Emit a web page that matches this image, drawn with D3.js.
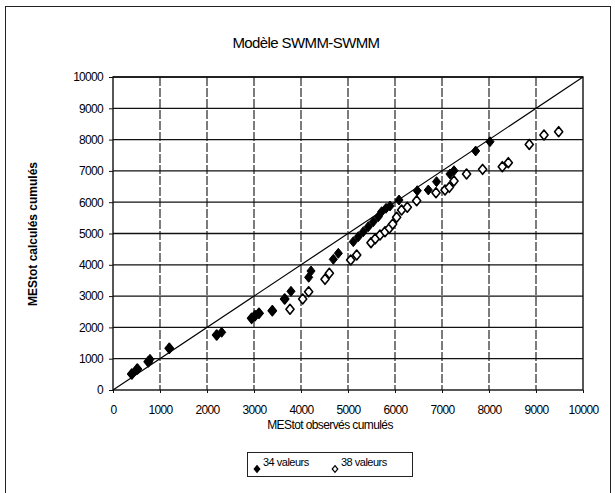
<!DOCTYPE html>
<html>
<head>
<meta charset="utf-8">
<script src="https://cdn.jsdelivr.net/npm/d3@7"></script>
<style>
  body { margin: 0; background: #fff; }
  svg { display: block; font-family: "Liberation Sans", Arial, sans-serif; }
</style>
</head>
<body>
<svg id="chart" width="615" height="493"></svg>
<script>
// values
const titre = "Modèle SWMM-SWMM"
const ticks = [0, 1000, 2000, 3000, 4000, 5000, 6000, 7000, 8000, 9000, 10000]

// 34 valeurs (losanges pleins)
const obs34 = [400, 517, 751, 787, 1198, 2206, 2312, 2950, 3021, 3106, 3390, 3653, 3787, 4163, 4213, 4688, 4794,
  5113, 5219, 5326, 5432, 5538, 5645, 5716, 5809, 5894, 6085, 6474, 6709, 6884, 7170, 7255, 7716, 8021]
const calc34 = [511, 671, 904, 980, 1332, 1757, 1843, 2290, 2374, 2450, 2534, 2907, 3153, 3600, 3802, 4175, 4367,
  4738, 4898, 5058, 5218, 5377, 5537, 5697, 5804, 5879, 6070, 6368, 6390, 6656, 6901, 7007, 7636, 7933]

// 38 valeurs (losanges vides), les premiers sont cachés sous les pleins
const obs38 = [400, 517, 751, 1198, 2206, 2950, 3021, 3106, 3390, 3653,
  3766, 4036, 4163, 4511, 4603, 5057, 5185, 5489, 5580, 5681, 5787, 5879, 5950, 6035, 6140, 6262, 6461,
  6872, 7064, 7156, 7255, 7523, 7864, 8283, 8411, 8857, 9170, 9482]
const calc38 = [511, 671, 904, 1332, 1757, 2290, 2374, 2450, 2534, 2907,
  2578, 2907, 3141, 3536, 3728, 4153, 4313, 4707, 4830, 4952, 5058, 5164, 5300, 5518, 5751, 5837, 6048,
  6304, 6390, 6475, 6677, 6901, 7049, 7135, 7263, 7846, 8147, 8253]

const legende = ["34 valeurs", "38 valeurs"]

const svg = d3.select("#chart")
const pLeft = 113, pRight = 583, pTop = 77, pBottom = 390

const x = d3.scaleLinear().domain([0, 10000]).range([pLeft, pRight])
const y = d3.scaleLinear().domain([0, 10000]).range([pBottom, pTop])

// losange un peu plus haut que large
const losange = {
  draw(ctx, size) {
    const h = Math.sqrt(size) * 0.62, w = h * 0.82
    ctx.moveTo(0, -h); ctx.lineTo(w, 0); ctx.lineTo(0, h); ctx.lineTo(-w, 0); ctx.closePath()
  }
}
const symb = d3.symbol().type(losange).size(64)

// cadre du graphique
svg.append("rect")
  .attr("x", 5.5).attr("y", 6.5).attr("width", 605).attr("height", 500)
  .attr("fill", "none").attr("stroke", "#222").attr("stroke-width", 1)

svg.append("text")
  .attr("x", 306).attr("y", 48)
  .attr("text-anchor", "middle")
  .style("font-size", "15px")
  .style("letter-spacing", "-0.6px")
  .text(titre)

// grille horizontale
svg.append("g").selectAll("line")
  .data(ticks.slice(1))
  .enter().append("line")
  .attr("x1", pLeft).attr("x2", pRight)
  .attr("y1", d => y(d)).attr("y2", d => y(d))
  .attr("stroke", "#111").attr("stroke-width", 1.3)

// grille verticale (tiretée sur le scan)
svg.append("g").selectAll("line")
  .data(ticks.slice(1, -1))
  .enter().append("line")
  .attr("x1", d => x(d)).attr("x2", d => x(d))
  .attr("y1", pTop).attr("y2", pBottom)
  .attr("stroke", "#111").attr("stroke-width", 1.1)
  .attr("stroke-dasharray", "9,2")

svg.append("rect")
  .attr("x", pLeft).attr("y", pTop).attr("width", pRight - pLeft).attr("height", pBottom - pTop)
  .attr("fill", "none").attr("stroke", "#111").attr("stroke-width", 1.4)

// axes
const xAxis = d3.axisBottom(x).tickValues(ticks).tickFormat(d3.format("d")).tickSize(3).tickPadding(12)
const yAxis = d3.axisLeft(y).tickValues(ticks).tickFormat(d3.format("d")).tickSize(4).tickPadding(6)

const gx = svg.append("g").attr("transform", `translate(0,${pBottom})`).call(xAxis)
const gy = svg.append("g").attr("transform", `translate(${pLeft},0)`).call(yAxis)
for (const g of [gx, gy]) {
  g.select(".domain").remove()
  g.selectAll("line").attr("stroke", "#111")
  g.selectAll("text")
    .attr("fill", "#000")
    .style("font-size", "12px")
    .style("letter-spacing", "-0.7px")
    .style("font-family", "'Liberation Sans', Arial, sans-serif")
}
gy.selectAll("text").attr("x", -10)

// droite y = x
svg.append("line")
  .attr("x1", x(0)).attr("y1", y(0)).attr("x2", x(10000)).attr("y2", y(10000))
  .attr("stroke", "#000").attr("stroke-width", 1.2)

// séries
svg.append("g").selectAll("path")
  .data(obs38.map((d, i) => [d, calc38[i]]))
  .enter().append("path")
  .attr("transform", d => `translate(${x(d[0])},${y(d[1])})`)
  .attr("d", symb)
  .attr("fill", "#fff").attr("stroke", "#000").attr("stroke-width", 1.6)
  .attr("stroke-linejoin", "round")

svg.append("g").selectAll("path")
  .data(obs34.map((d, i) => [d, calc34[i]]))
  .enter().append("path")
  .attr("transform", d => `translate(${x(d[0])},${y(d[1])})`)
  .attr("d", symb)
  .attr("fill", "#000").attr("stroke", "#000").attr("stroke-width", 1)

// titres des axes
svg.append("text")
  .attr("x", 330).attr("y", 429)
  .attr("text-anchor", "middle")
  .style("font-size", "12px")
  .style("letter-spacing", "-0.6px")
  .text("MEStot observés cumulés")

svg.append("text")
  .attr("transform", "translate(37,234) rotate(-90)")
  .attr("text-anchor", "middle")
  .style("font-size", "12px")
  .style("font-weight", "bold")
  .text("MEStot calculés cumulés")

// légende
const leg = svg.append("g")
leg.append("rect")
  .attr("x", 247.5).attr("y", 452.5).attr("width", 165).attr("height", 24)
  .attr("fill", "#fff").attr("stroke", "#222")

leg.selectAll("path")
  .data(legende)
  .enter().append("path")
  .attr("transform", (d, i) => `translate(${i ? 335 : 257},469)`)
  .attr("d", d3.symbol().type(losange).size(30))
  .attr("fill", (d, i) => i ? "#fff" : "#000")
  .attr("stroke", "#000").attr("stroke-width", 1.2)

leg.selectAll("text")
  .data(legende)
  .enter().append("text")
  .attr("x", (d, i) => i ? 341 : 263).attr("y", 466)
  .style("font-size", "11px")
  .style("letter-spacing", "-0.5px")
  .text(d => d)
</script>
</body>
</html>
